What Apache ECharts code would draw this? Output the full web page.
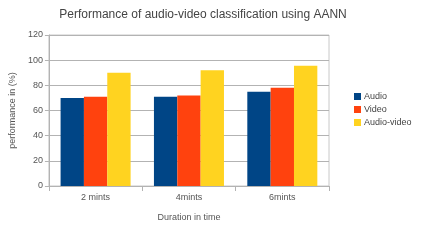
<!DOCTYPE html>
<html>
<head>
<meta charset="utf-8">
<script src="https://cdn.jsdelivr.net/npm/echarts@6/dist/echarts.min.js"></script>
<style>
  html, body { margin: 0; padding: 0; background: #fff; }
  #chart { width: 421px; height: 244px; }
</style>
</head>
<body>
<div id="chart"></div>
<script>
const categories = ["2 mints", "4mints", "6mints"];
const audio = [70, 71, 75];
const video = [71, 72, 78];
const audioVideo = [90, 92, 95.5];
const yTicks = [0, 20, 40, 60, 80, 100, 120];

const font = "Liberation Sans, Arial, sans-serif";
const chart = echarts.init(document.getElementById("chart"), null, { renderer: "canvas" });

chart.setOption({
  animation: false,
  backgroundColor: "#fff",
  title: {
    text: "Performance of audio-video classification using AANN",
    left: 198,
    top: 4,
    textAlign: "center",
    textStyle: { fontFamily: font, fontSize: 12, fontWeight: "normal", color: "#444" }
  },
  legend: {
    orient: "vertical",
    left: 349,
    top: 87,
    itemWidth: 7,
    itemHeight: 7,
    itemGap: 4,
    icon: "rect",
    textStyle: { fontFamily: font, fontSize: 9, color: "#444", padding: [0, 0, 0, -2] }
  },
  grid: { left: 43, right: 92, top: 35, bottom: 58, show: true, borderColor: "#c8c8c8", borderWidth: 1 },
  xAxis: {
    type: "category",
    data: categories,
    name: "Duration in time",
    nameLocation: "middle",
    nameGap: 27,
    nameTextStyle: { fontFamily: font, fontSize: 9, color: "#555" },
    axisLine: { lineStyle: { color: "#b3b3b3" } },
    axisTick: { show: true, length: 5, lineStyle: { color: "#b3b3b3" } },
    axisLabel: { fontFamily: font, fontSize: 9, color: "#555", margin: 7 }
  },
  yAxis: {
    type: "value",
    min: yTicks[0],
    max: yTicks[yTicks.length - 1],
    interval: 20,
    name: "performance in (%)",
    nameLocation: "middle",
    nameGap: 29,
    nameTextStyle: { fontFamily: font, fontSize: 9, color: "#555" },
    axisLine: { show: true, lineStyle: { color: "#b3b3b3" } },
    axisTick: { show: true, length: 4, lineStyle: { color: "#b3b3b3" } },
    axisLabel: { fontFamily: font, fontSize: 9, color: "#555", margin: 6 },
    splitLine: { lineStyle: { color: "#b3b3b3" } }
  },
  series: [
    { name: "Audio", type: "bar", data: audio, itemStyle: { color: "#004586" }, barGap: "0%", barCategoryGap: "25%" },
    { name: "Video", type: "bar", data: video, itemStyle: { color: "#ff420e" } },
    { name: "Audio-video", type: "bar", data: audioVideo, itemStyle: { color: "#ffd320" } }
  ]
});
</script>
</body>
</html>
